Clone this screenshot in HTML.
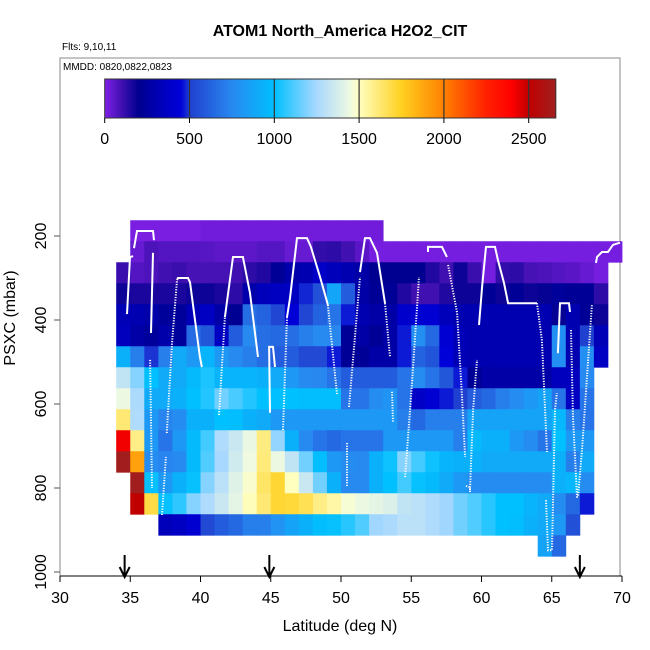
<!DOCTYPE html>
<html><head><meta charset="utf-8"><style>
body{margin:0;background:#fff}
svg{display:block;font-family:"Liberation Sans",sans-serif}
</style></head><body>
<svg id="c" width="650" height="650" viewBox="0 0 650 650" xmlns="http://www.w3.org/2000/svg">
<text x="340" y="36" text-anchor="middle" font-size="16" font-weight="bold">ATOM1 North_America H2O2_CIT</text>
<text x="62" y="50" font-size="10">Flts: 9,10,11</text>
<rect x="60" y="58" width="560" height="518" fill="none" stroke="#888" stroke-width="1"/>
<text x="63" y="70" font-size="10">MMDD: 0820,0822,0823</text>
<g id="cells"></g>
<g id="tracks"></g>
<g id="cbar"></g>
<g id="axes"></g>
<text x="340" y="631" text-anchor="middle" font-size="16">Latitude (deg N)</text>
<text transform="translate(15,318) rotate(-90)" text-anchor="middle" font-size="16">PSXC (mbar)</text>
</svg>
<script>
const N=null;
const lats=[34,35,36,37,38,39,40,41,42,43,44,45,46,47,48,49,50,51,52,53,54,55,56,57,58,59,60,61,62,63,64,65,66,67,68,69];
const pTops=[162.5,212.5,262.5,312.5,362.5,412.5,462.5,512.5,562.5,612.5,662.5,712.5,762.5,812.5,862.5,912.5];
const grid=[
[N,10,10,10,10,10,25,25,25,25,25,25,25,25,25,25,25,25,25,N,N,N,N,N,N,N,N,N,N,N,N,N,N,N,N,N],
[N,40,80,70,70,70,65,55,55,55,68,68,40,40,120,130,100,60,15,15,15,15,15,15,15,15,15,15,15,15,15,15,15,15,15,15],
[110,70,80,100,110,90,90,90,100,130,150,220,280,300,380,330,300,270,200,200,200,200,150,100,180,110,15,120,130,90,80,70,60,40,15,N],
[180,160,160,160,160,180,180,160,130,280,330,350,350,480,560,880,600,270,220,220,150,100,100,150,180,180,220,180,220,180,190,230,220,220,130,N],
[320,300,280,230,230,320,360,270,210,660,620,520,440,520,620,680,470,300,270,270,400,430,430,330,300,300,300,300,300,300,300,190,300,220,180,N],
[340,270,240,280,230,650,580,360,600,760,660,640,660,720,760,750,220,270,220,270,470,780,640,430,320,300,300,300,300,300,300,780,300,500,320,N],
[930,720,490,720,900,820,950,820,760,720,660,600,600,530,530,470,220,220,270,270,470,620,570,450,320,300,300,300,300,300,300,780,300,780,360,N],
[1320,1200,1000,900,900,970,1040,950,950,950,930,900,820,760,750,680,600,600,600,600,680,770,680,580,470,220,270,270,270,270,270,340,340,760,N,N],
[1440,1260,900,900,930,1000,1050,1170,1110,1050,1000,1000,1000,990,990,990,680,680,770,800,680,380,430,470,500,600,640,720,770,820,870,680,360,680,N,N],
[1620,1270,820,740,770,930,930,1000,990,930,900,820,820,820,820,820,820,820,820,820,720,640,720,720,720,870,870,870,870,870,870,960,720,680,N,N],
[2420,1590,820,680,820,970,1100,1270,1340,1430,1600,1220,930,760,680,640,680,680,680,820,820,820,820,820,720,970,930,930,820,770,680,1000,820,820,N,N],
[2650,1900,770,740,760,970,1120,1250,1360,1450,1610,1440,1320,1170,990,820,770,760,930,1020,1200,1100,1020,950,930,930,900,900,900,900,900,930,720,900,N,N],
[N,2650,1010,820,930,1010,1200,1300,1400,1480,1640,1720,1500,1340,1170,930,760,760,930,1000,1100,1010,970,900,820,770,770,770,770,770,770,930,960,770,N,N],
[N,2500,1690,1010,1070,1200,1270,1340,1420,1510,1620,1720,1710,1670,1590,1540,1470,1440,1420,1390,1320,1300,1270,1240,1170,1120,1060,1000,1000,950,900,770,640,470,N,N],
[N,N,N,330,360,420,530,600,640,720,720,800,870,930,990,1010,1060,1120,1240,1260,1300,1300,1270,1240,1170,1120,1060,1000,990,930,900,820,560,N,N,N],
[N,N,N,N,N,N,N,N,N,N,N,N,N,N,N,N,N,N,N,N,N,N,N,N,N,N,N,N,N,N,870,640,N,N,N,N]
];
const xTicks=[30,35,40,45,50,55,60,65,70];
const yTicks=[200,400,600,800,1000];
const cbTicks=[0,500,1000,1500,2000,2500];
const arrowLats=[34.6,44.9,67];
const trackStyles=['s','s','s','d','d','d','s','s','d','s','d','s','d','d','d','d','d','d','s','d','d','d','d','s','d','d','s'];
const tracks=[
[[34.77,386],[34.98,250],[35.2,248]],
[[35.27,229],[35.48,188],[36.62,188],[36.69,210]],
[[36.62,240],[36.48,431]],
[[36.41,495],[36.55,800]],
[[37.26,864],[37.54,726]],
[[37.6,669],[37.97,455],[38.33,305]],
[[38.33,305],[38.4,300],[39.11,300],[39.25,310],[39.96,488],[40.1,512]],
[[41.74,393],[42.31,250],[43.02,250],[43.52,336],[44.09,488]],
[[41.32,626],[41.74,393]],
[[44.95,621],[44.88,464],[45.16,464],[45.3,512]],
[[45.87,662],[46.16,393]],
[[46.16,393],[46.37,348],[46.87,205],[47.58,205],[47.86,226],[48.51,298],[49.07,364]],
[[49.07,364],[49.72,579]],
[[50.43,693],[50.43,798]],
[[50.57,607],[51.35,298]],
[[53.63,571],[53.7,643]],
[[54.56,774],[55.05,550],[55.55,298]],
[[57.62,269],[58.26,383],[58.61,583],[58.83,726]],
[[51.35,286],[51.71,205],[52.06,205],[52.56,240],[53.13,360]],
[[53.13,360],[53.49,488]],
[[58.9,795],[59.18,798],[59.18,810]],
[[59.18,805],[59.4,614],[59.68,495]],
[[63.95,360],[64.3,448],[64.66,714]],
[[59.82,412],[60.04,321],[60.32,226],[60.96,226],[61.17,257],[61.6,312],[61.89,360],[63.95,360]],
[[64.59,829],[64.73,948],[65.02,948],[65.23,614],[65.37,574]],
[[66.37,424],[66.51,631],[66.8,821],[66.87,821],[67.15,710],[67.86,364]],
[[65.44,479],[65.59,360],[66.23,360],[66.3,381]]
];
const extraSolid=[[[56.19,238],[56.19,226],[57.19,226],[57.54,250]],[[68.15,264],[68.22,250],[68.58,238],[69.0,238],[69.36,221],[69.86,216]]];

const NS='http://www.w3.org/2000/svg';
const X=l=>60+(l-30)*14.05;
const Y=p=>236+(p-200)*0.42;
const stops=[[0,'#8020e8'],[100,'#4010b0'],[200,'#000090'],[350,'#0000c0'],[450,'#0000d8'],[500,'#2040d0'],[750,'#2888f0'],[1000,'#00c0ff'],[1250,'#a8d8ff'],[1450,'#f0fae0'],[1500,'#ffffc0'],[1750,'#ffd020'],[2000,'#ff8000'],[2250,'#ff2000'],[2400,'#ff0000'],[2500,'#c00000'],[2660,'#a02020']];
const hex=h=>[1,3,5].map(i=>parseInt(h.substr(i,2),16));
function col(v){
  if(v<=0)return stops[0][1];
  for(let i=1;i<stops.length;i++){if(v<=stops[i][0]){const a=stops[i-1],b=stops[i];const t=(v-a[0])/(b[0]-a[0]);const A=hex(a[1]),B=hex(b[1]);return 'rgb('+A.map((c,k)=>Math.round(c+(B[k]-c)*t)).join(',')+')';}}
  return stops[stops.length-1][1];
}
function mk(tag,at,parent){const e=document.createElementNS(NS,tag);for(const k in at)e.setAttribute(k,at[k]);parent.appendChild(e);return e;}
const cells=document.getElementById('cells');
grid.forEach((row,i)=>row.forEach((v,j)=>{
  if(v===null)return;
  const x0=X(lats[j]),x1=X(lats[j]+1),y0=Y(pTops[i]),y1=Y(pTops[i]+50);
  const r=mk('rect',{x:x0.toFixed(2),y:y0.toFixed(2),width:(x1-x0+0.4).toFixed(2),height:(y1-y0+0.4).toFixed(2),fill:col(v)},cells);
  
  
}));
const tg=document.getElementById('tracks');
function drawTrack(pts,style){
  const p=mk('polyline',{points:pts.map(q=>X(q[0]).toFixed(1)+','+Y(q[1]).toFixed(1)).join(' '),fill:'none',stroke:'#fff','stroke-width':2,'stroke-dasharray':style==='s'?'none':'1.2 1.4'},tg);
  
  
}
tracks.forEach((t,i)=>drawTrack(t,trackStyles[i]));
extraSolid.forEach(t=>drawTrack(t,'s'));
const cb=document.getElementById('cbar');
const CBX=v=>104.7+v*(528.7-104.7)/2500;
const defs=mk('defs',{},cb);
const lg=mk('linearGradient',{id:'g',x1:'0',x2:'1',y1:'0',y2:'0'},defs);
for(let v=0;v<=2660;v+=20){mk('stop',{offset:(v/2660).toFixed(4),'stop-color':col(v)},lg);}
const bar=mk('rect',{x:CBX(0),y:79,width:CBX(2660)-CBX(0),height:39,fill:'url(#g)',stroke:'#333','stroke-width':1},cb);


cbTicks.forEach(v=>{
  if(v>0){const l=mk('line',{x1:CBX(v),x2:CBX(v),y1:79,y2:118,stroke:'#333','stroke-width':1.2},cb);}
  mk('line',{x1:CBX(v),x2:CBX(v),y1:118,y2:123,stroke:'#000'},cb);
  const t=mk('text',{x:CBX(v),y:144,'text-anchor':'middle','font-size':16},cb);t.textContent=v;
  
  
});
const ax=document.getElementById('axes');
mk('line',{x1:X(30),x2:X(70),y1:576,y2:576,stroke:'#000','stroke-width':1},ax);
xTicks.forEach(v=>{
  mk('line',{x1:X(v),x2:X(v),y1:576,y2:582,stroke:'#000'},ax);
  const t=mk('text',{x:X(v),y:603,'text-anchor':'middle','font-size':16},ax);t.textContent=v;
  
  
});
yTicks.forEach(v=>{
  mk('line',{x1:54,x2:60,y1:Y(v),y2:Y(v),stroke:'#555'},ax);
  const t=mk('text',{transform:'translate(46,'+Y(v)+') rotate(-90)','text-anchor':'middle','font-size':16},ax);t.textContent=v;
  
  
});
arrowLats.forEach(l=>{
  const x=X(l);
  const a=mk('path',{d:'M'+x+',555 L'+x+',576 M'+(x-5)+',567 L'+x+',577 L'+(x+5)+',567',stroke:'#000','stroke-width':2,fill:'none'},ax);
  
  
});
</script>
</body></html>
